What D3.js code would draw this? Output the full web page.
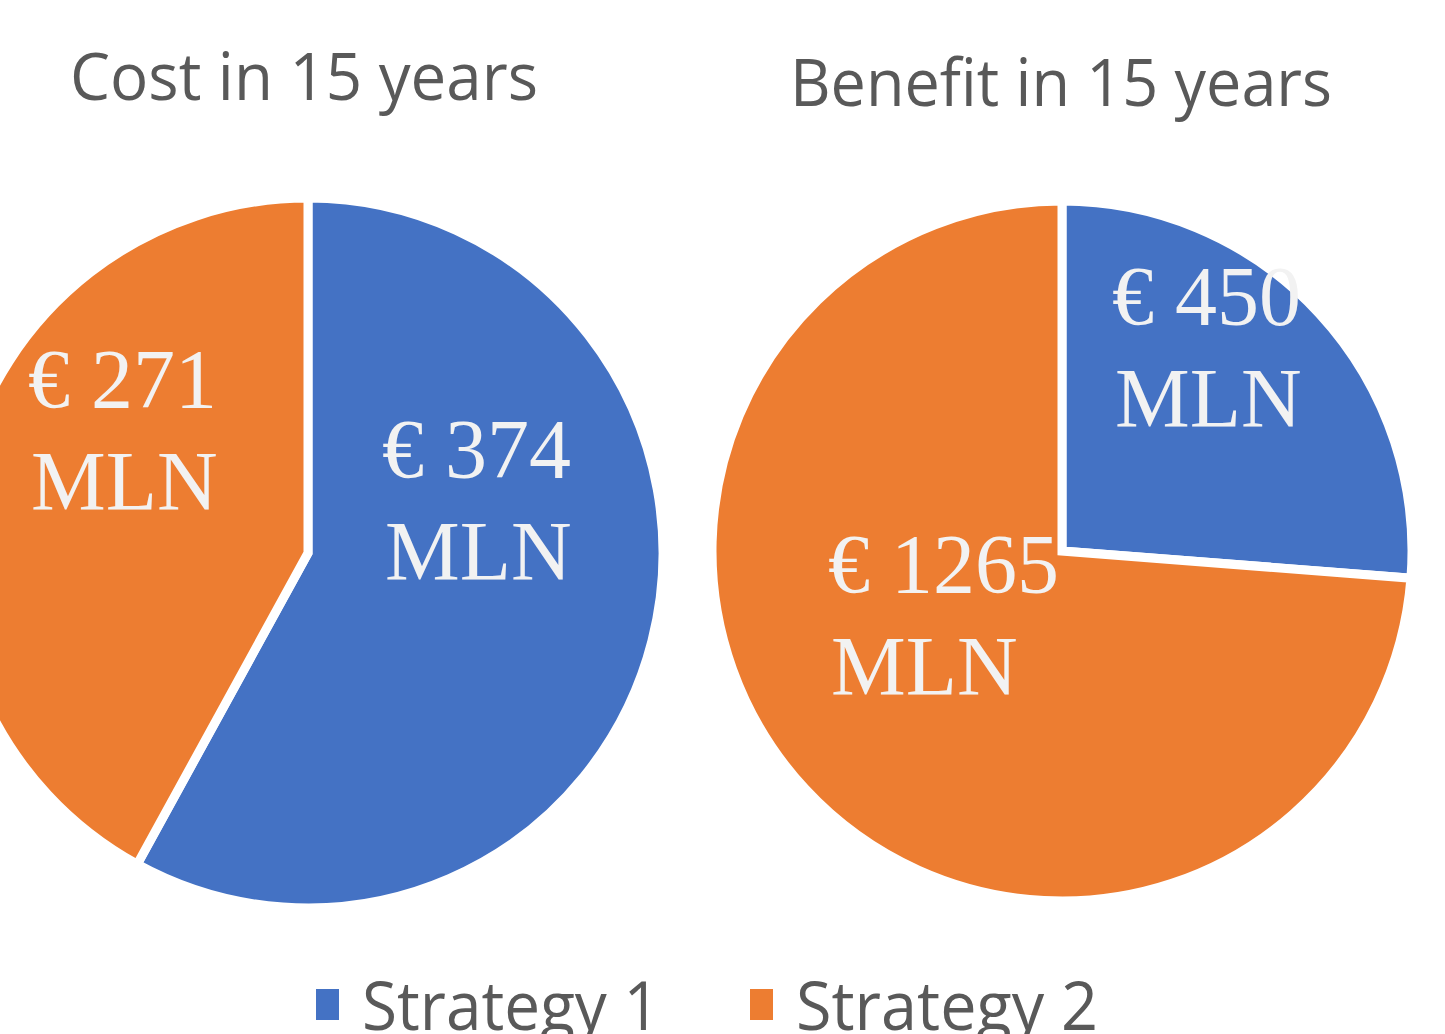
<!DOCTYPE html>
<html>
<head>
<meta charset="utf-8">
<script src="https://cdn.jsdelivr.net/npm/d3@7"></script>
<style>
  body { margin: 0; background: #fff; }
  svg { display: block; }
</style>
</head>
<body>
<div id="chart-area"></div>
<script>
var strategies = ["Strategy 1", "Strategy 2"];
var costValues = [374, 271];
var benefitValues = [450, 1265];
var chartTitles = ["Cost in 15 years", "Benefit in 15 years"];

var width = 1445, height = 1034;
var colors = d3.scaleOrdinal().domain(strategies).range(["#4472C4", "#ED7D31"]);

var svg = d3.select("#chart-area")
    .append("svg")
    .attr("width", width)
    .attr("height", height);

// pie layout settings (centre, radius, title box, label offsets per slice)
var pies = [
    { title: chartTitles[0], values: costValues, cx: 308, cy: 553, r: 355,
      titleX: 70, titleY: 100, titleW: 468,
      labels: [{ dx: 74, dy: -75 }, { dx: -280, dy: -145 }] },
    { title: chartTitles[1], values: benefitValues, cx: 1062, cy: 551, r: 350,
      titleX: 790, titleY: 106, titleW: 542,
      labels: [{ dx: 50, dy: -226 }, { dx: -234, dy: 42 }] }
];

var pie = d3.pie().sort(null);

pies.forEach((p) => {
    svg.append("text")
        .attr("x", p.titleX)
        .attr("y", p.titleY)
        .attr("textLength", p.titleW)
        .attr("lengthAdjust", "spacingAndGlyphs")
        .attr("font-family", "Open Sans")
        .attr("font-size", 66)
        .attr("fill", "#595959")
        .text(p.title);

    var g = svg.append("g")
        .attr("transform", "translate(" + p.cx + "," + p.cy + ")");

    var arc = d3.arc().innerRadius(0).outerRadius(p.r);
    var data = pie(p.values);

    g.selectAll("path")
        .data(data)
        .enter()
        .append("path")
        .attr("d", arc)
        .attr("fill", (d, i) => colors(strategies[i]))
        .attr("stroke", "#fff")
        .attr("stroke-width", 9)
        .attr("stroke-linejoin", "miter");

    data.forEach((d, i) => {
        var t = g.append("text")
            .attr("font-family", "Liberation Serif")
            .attr("font-size", 84)
            .attr("fill", "#F2F2F2");
        t.append("tspan")
            .attr("x", p.labels[i].dx)
            .attr("y", p.labels[i].dy)
            .text("€ " + d.data);
        t.append("tspan")
            .attr("x", p.labels[i].dx + 3)
            .attr("y", p.labels[i].dy + 102)
            .text("MLN");
    });
});

// legend
var legendX = [316, 750];
var legend = svg.selectAll(".legend-item")
    .data(strategies)
    .enter()
    .append("g")
    .attr("class", "legend-item")
    .attr("transform", (d, i) => "translate(" + legendX[i] + ",0)");

legend.append("rect")
    .attr("x", 0)
    .attr("y", 989)
    .attr("width", 23)
    .attr("height", 31)
    .attr("fill", (d) => colors(d));

legend.append("text")
    .attr("x", 46)
    .attr("y", 1030)
    .attr("textLength", (d, i) => i === 0 ? 298 : 302)
    .attr("lengthAdjust", "spacingAndGlyphs")
    .attr("font-family", "Open Sans")
    .attr("font-size", 68)
    .attr("fill", "#595959")
    .text((d) => d);
</script>
</body>
</html>
